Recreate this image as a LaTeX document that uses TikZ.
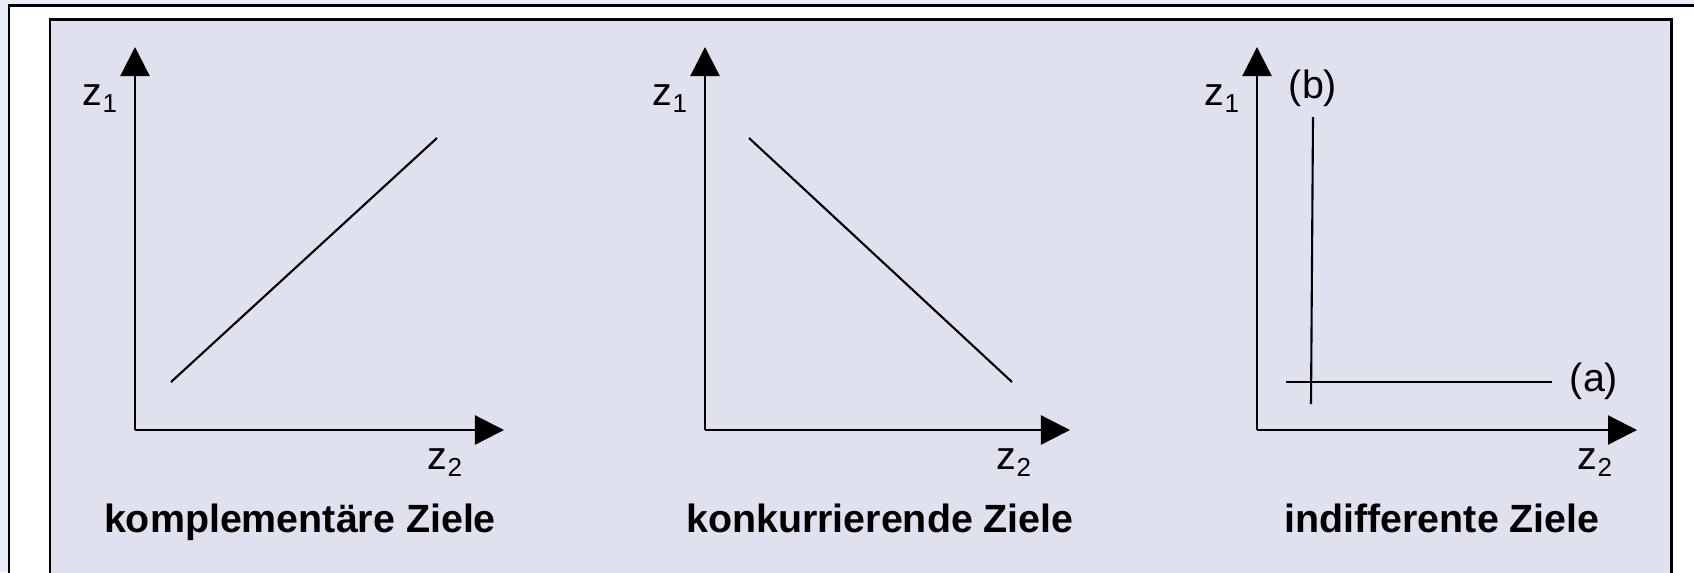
\documentclass[tikz,border=0pt]{standalone}
\usepackage{fontspec}
\setmainfont{Liberation Sans}
\usetikzlibrary{arrows.meta}
\definecolor{ZielBack}{HTML}{E8EEF8}
\definecolor{ZielPanel}{HTML}{DFE1EE}
\newcommand{\zlab}[2]{#1\raisebox{-0.35ex}{\fontsize{7.4pt}{8pt}\selectfont #2}}

\begin{document}
\begin{tikzpicture}[x=0.01cm,y=-0.01cm,
    axis/.style={line width=0.65pt,-{Triangle[length=2.9mm,width=2.9mm]}},
    curve/.style={line width=0.6pt},
    lab/.style={font=\fontsize{11.2pt}{13pt}\selectfont,inner sep=0pt},
    title/.style={font=\fontsize{11.2pt}{13pt}\selectfont\bfseries,inner sep=0pt}]
  \useasboundingbox (0,0) rectangle (1694,572);
  \clip (0,0) rectangle (1694,572);
  \fill[ZielBack] (0,0) rectangle (1694,572);
  \draw[line width=0.85pt,fill=white] (9,5) rectangle (1740,620);
  \draw[line width=0.85pt,fill=ZielPanel] (50,19) rectangle (1671,620);
  % axes of the three panels
  \foreach \p/\ox/\tx/\zx in {1/135/504/445,2/705/1070/1014,3/1257/1637/1595}{
    \coordinate (o\p) at (\ox,430);
    \draw[axis] (o\p) -- (\ox,47);
    \draw[axis] (o\p) -- (\tx,430);
    \node[lab,anchor=base] (zi\p) at (\ox-35,105) {\zlab{z}{1}};
    \node[lab,anchor=base] (zii\p) at (\zx,469) {\zlab{z}{2}};
  }
  % relations
  \draw[curve] (171,382) -- (437,138);
  \draw[curve] (749,138) -- (1012,382);
  \node[lab] (a) at (1594,381) {(a)};
  \node[lab] (b) at (1313,88) {(b)};
  \draw[curve] (1286,382) -- (1552,382);
  \draw[curve] (1311,404) -- (1313,117);
  % captions
  \node[title,anchor=base] (t1) at (300,532) {komplementäre Ziele};
  \node[title,anchor=base] (t2) at (880,532) {konkurrierende Ziele};
  \node[title,anchor=base] (t3) at (1442,532) {indifferente Ziele};
\end{tikzpicture}
\end{document}
